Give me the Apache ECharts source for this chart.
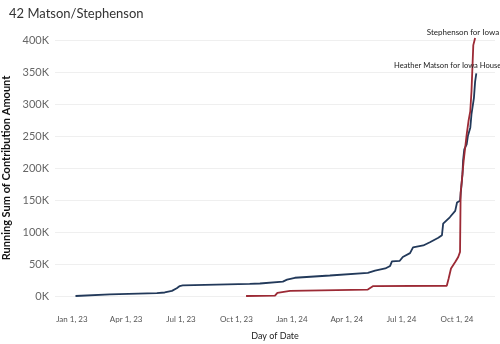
<!DOCTYPE html>
<html>
<head>
<meta charset="utf-8">
<script src="https://cdn.jsdelivr.net/npm/echarts@6/dist/echarts.min.js"></script>
<style>
html,body{margin:0;padding:0;background:#fff;}
#c{width:500px;height:344px;}
</style>
</head>
<body>
<div id="c"></div>
<script>
const seriesNames = ["Heather Matson for Iowa House", "Stephenson for Iowa"];

const matsonDates = ["2023-01-07","2023-01-09","2023-03-05","2023-05-22","2023-06-04","2023-06-16","2023-06-24","2023-06-29","2023-07-04","2023-10-23","2023-11-09","2023-11-11","2023-12-17","2023-12-24","2024-01-06","2024-03-04","2024-05-06","2024-05-18","2024-06-04","2024-06-12","2024-06-15","2024-06-28","2024-06-30","2024-07-03","2024-07-15","2024-07-20","2024-08-06","2024-08-17","2024-08-31","2024-09-06","2024-09-08","2024-09-19","2024-09-28","2024-10-01","2024-10-06","2024-10-09","2024-10-10","2024-10-11","2024-10-13","2024-10-17","2024-10-19","2024-10-23","2024-10-25","2024-10-29","2024-10-31","2024-11-02"];
const matsonValues = [0,1500,2500,4500,5500,8000,12000,15500,16500,19000,19500,22000,22500,25500,28500,32000,36000,39500,43000,47000,54000,55000,58000,61000,67000,76000,79000,84000,91000,95000,113000,123000,133000,146000,149000,150000,190000,211000,229000,237000,250000,263000,284000,309000,335000,348000];

const stephDates = ["2023-10-17","2023-12-04","2023-12-08","2023-12-29","2024-05-06","2024-05-15","2024-09-14","2024-09-17","2024-09-21","2024-09-28","2024-10-03","2024-10-06","2024-10-07","2024-10-08","2024-10-12","2024-10-17","2024-10-20","2024-10-23","2024-10-25","2024-10-27","2024-10-28","2024-10-31"];
const stephValues = [0,500,5000,8000,10000,15500,16000,27000,43000,53000,61000,69000,162000,170000,211000,252000,273000,289000,320000,322000,392000,403000];

const xTickDates = ["2023-01-01","2023-04-01","2023-07-01","2023-10-01","2024-01-01","2024-04-01","2024-07-01","2024-10-01"];
const xTickLabels = ["Jan 1, 23","Apr 1, 23","Jul 1, 23","Oct 1, 23","Jan 1, 24","Apr 1, 24","Jul 1, 24","Oct 1, 24"];
const yTicks = [0,50000,100000,150000,200000,250000,300000,350000,400000];

const ts = d => new Date(d + "T00:00:00Z").getTime();
const xTickTs = xTickDates.map(ts);

const chart = echarts.init(document.getElementById('c'), null, {renderer:'canvas'});
const FONT = "Lato";
chart.setOption({
  animation:false,
  backgroundColor:'#fff',
  title:{text:"42 Matson/Stephenson", left:4, top:2,
    textStyle:{fontFamily:FONT, fontSize:13, fontWeight:'normal', color:'#333'}},
  grid:{left:55, right:5, top:40, bottom:48, containLabel:false, outerBoundsMode:'none'},
  xAxis:{
    type:'value',
    min:ts("2022-12-04"), max:ts("2024-12-03"),
    name:"Day of Date", nameLocation:'middle', nameGap:36,
    nameTextStyle:{fontFamily:FONT, fontSize:9, color:'#222'},
    axisLine:{show:false}, axisTick:{show:false},
    splitLine:{show:false},
    axisLabel:{
      customValues:xTickTs,
      margin:19,
      fontFamily:FONT, fontSize:8, color:'#555',
      formatter:function(v){const i=xTickTs.indexOf(v); return i>=0?xTickLabels[i]:'';}
    }
  },
  yAxis:{
    type:'value', min:0, max:400000, interval:50000,
    name:"Running Sum of Contribution Amount", nameLocation:'middle', nameGap:38,
    nameTextStyle:{fontFamily:FONT, fontSize:11, color:'#111', fontWeight:'bold'},
    axisLine:{show:false}, axisTick:{show:false},
    splitLine:{lineStyle:{color:'#efefef', width:1}},
    axisLabel:{fontFamily:FONT, fontSize:11, color:'#666', margin:6,
      formatter:function(v){return (v/1000)+'K';}}
  },
  series:[
    {
      name:seriesNames[0], type:'line', symbol:'none', clip:false,
      data:matsonDates.map((d,i)=>[ts(d), matsonValues[i]]),
      lineStyle:{color:'#22395a', width:1.8},
      itemStyle:{color:'#22395a'},
      endLabel:{show:true, formatter:seriesNames[0], align:'right', verticalAlign:'bottom',
        offset:[17,-4], fontFamily:FONT, fontSize:7.6, color:'#222'}
    },
    {
      name:seriesNames[1], type:'line', symbol:'none', clip:false,
      data:stephDates.map((d,i)=>[ts(d), stephValues[i]]),
      lineStyle:{color:'#9c2a35', width:1.8},
      itemStyle:{color:'#9c2a35'},
      endLabel:{show:true, formatter:seriesNames[1], align:'right', verticalAlign:'bottom',
        offset:[16,-2], fontFamily:FONT, fontSize:8, color:'#222'}
    }
  ]
});
</script>
</body>
</html>
